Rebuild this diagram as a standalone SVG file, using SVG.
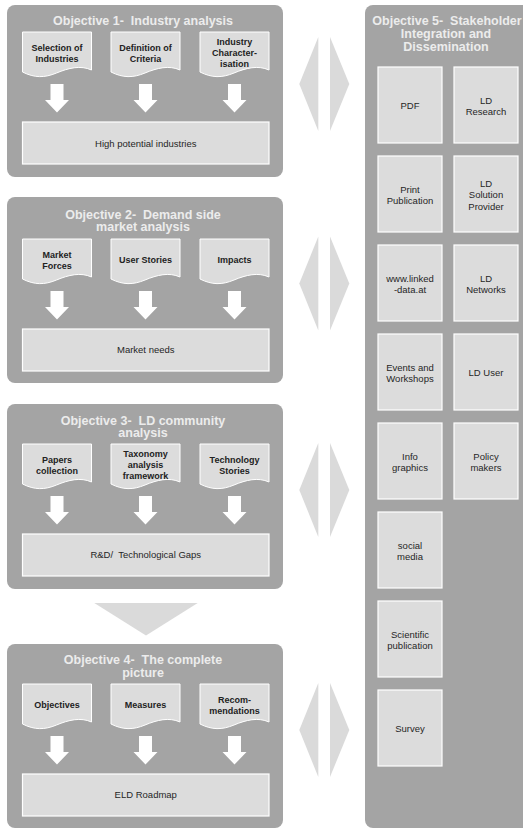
<svg xmlns="http://www.w3.org/2000/svg" xmlns:xlink="http://www.w3.org/1999/xlink" width="523" height="829" viewBox="0 0 523 829">
<style>
.panel{fill:#a4a4a4}
.box{fill:#dcdcdc;stroke:#ffffff;stroke-width:1.2}
.doc{fill:#dcdcdc;stroke:#ffffff;stroke-width:1}
.warr{fill:#ffffff}
.gshape{fill:#dadada}
text{white-space:pre}
.title{font-family:"Liberation Sans",Arial,sans-serif;font-weight:bold;font-size:12.5px;fill:#ececec;text-anchor:middle}
.dt{font-family:"Liberation Sans",Arial,sans-serif;font-weight:bold;font-size:9px;fill:#222222;text-anchor:middle}
.bt{font-family:"Liberation Sans",Arial,sans-serif;font-size:9.5px;fill:#262626;text-anchor:middle}
</style>
<defs>
<path id="docshape" d="M0,0 H69 V38 C58,33 46,36 34,41 C22,46 12,46 0,40 Z"/>
<polygon id="warrow" points="-6.5,0 6.5,0 6.5,16 12,16 0,28.5 -12,16 -6.5,16"/>
<g id="dbl">
<polygon points="318.3,-47 299.3,0 318.3,47"/>
<polygon points="330,-47 349.3,0 330,47"/>
</g>
</defs>

<!-- Panels -->
<g id="obj1">
<rect class="panel" x="7" y="5" width="276" height="172" rx="8"/>
<text class="title" x="143" y="24.5" xml:space="preserve">Objective 1-  Industry analysis</text>
</g>
<g id="obj2">
<rect class="panel" x="7" y="197" width="276" height="186" rx="8"/>
<text class="title" x="143" y="218.5" xml:space="preserve">Objective 2-  Demand side</text>
<text class="title" x="143" y="231">market analysis</text>
</g>
<g id="obj3">
<rect class="panel" x="7" y="404" width="276" height="185" rx="8"/>
<text class="title" x="143" y="424.5" xml:space="preserve">Objective 3-  LD community</text>
<text class="title" x="143" y="437">analysis</text>
</g>
<g id="obj4">
<rect class="panel" x="7" y="644" width="276" height="184" rx="8"/>
<text class="title" x="143" y="664" xml:space="preserve">Objective 4-  The complete</text>
<text class="title" x="143" y="676.5">picture</text>
</g>
<g id="obj5">
<rect class="panel" x="365" y="5" width="175" height="823" rx="8"/>
<text class="title" x="447" y="25" xml:space="preserve">Objective 5-  Stakeholder</text>
<text class="title" x="446" y="38">Integration and</text>
<text class="title" x="446" y="51">Dissemination</text>
</g>

<!-- Objective 1 nodes -->
<g id="sel-ind"><use href="#docshape" class="doc" x="22.5" y="32"/><text class="dt" x="57" y="50.8">Selection of</text><text class="dt" x="57" y="61.8">Industries</text></g>
<g id="def-crit"><use href="#docshape" class="doc" x="111" y="32"/><text class="dt" x="145.5" y="50.8">Definition of</text><text class="dt" x="145.5" y="61.8">Criteria</text></g>
<g id="ind-char"><use href="#docshape" class="doc" x="200" y="32"/><text class="dt" x="234.5" y="45.3">Industry</text><text class="dt" x="234.5" y="56.3">Character-</text><text class="dt" x="234.5" y="67.3">isation</text></g>
<g id="high-pot"><rect class="box" x="22.5" y="122" width="246.5" height="42"/><text class="bt" x="145.75" y="146.5">High potential industries</text></g>

<!-- Objective 2 nodes -->
<g id="mkt-forces"><use href="#docshape" class="doc" x="22.5" y="239"/><text class="dt" x="57" y="257.8">Market</text><text class="dt" x="57" y="268.8">Forces</text></g>
<g id="user-stories"><use href="#docshape" class="doc" x="111" y="239"/><text class="dt" x="145.5" y="263.3">User Stories</text></g>
<g id="impacts"><use href="#docshape" class="doc" x="200" y="239"/><text class="dt" x="234.5" y="263.3">Impacts</text></g>
<g id="mkt-needs"><rect class="box" x="22.5" y="329" width="246.5" height="42"/><text class="bt" x="145.75" y="353.4">Market needs</text></g>

<!-- Objective 3 nodes -->
<g id="papers"><use href="#docshape" class="doc" x="22.5" y="444"/><text class="dt" x="57" y="462.8">Papers</text><text class="dt" x="57" y="473.8">collection</text></g>
<g id="taxonomy"><use href="#docshape" class="doc" x="111" y="444"/><text class="dt" x="145.5" y="457.3">Taxonomy</text><text class="dt" x="145.5" y="468.3">analysis</text><text class="dt" x="145.5" y="479.3">framework</text></g>
<g id="tech-stories"><use href="#docshape" class="doc" x="200" y="444"/><text class="dt" x="234.5" y="462.8">Technology</text><text class="dt" x="234.5" y="473.8">Stories</text></g>
<g id="rd-gaps"><rect class="box" x="22.5" y="534" width="246.5" height="42"/><text class="bt" x="145.75" y="558.4" xml:space="preserve">R&amp;D/  Technological Gaps</text></g>

<!-- Objective 4 nodes -->
<g id="objectives"><use href="#docshape" class="doc" x="22.5" y="684"/><text class="dt" x="57" y="708.3">Objectives</text></g>
<g id="measures"><use href="#docshape" class="doc" x="111" y="684"/><text class="dt" x="145.5" y="708.3">Measures</text></g>
<g id="recom"><use href="#docshape" class="doc" x="200" y="684"/><text class="dt" x="234.5" y="702.8">Recom-</text><text class="dt" x="234.5" y="713.8">mendations</text></g>
<g id="eld-roadmap"><rect class="box" x="22.5" y="774" width="246.5" height="42"/><text class="bt" x="145.75" y="798.4">ELD Roadmap</text></g>

<!-- Objective 5 nodes -->
<g id="pdf"><rect class="box" x="378" y="67" width="64" height="76"/><text class="bt" x="410" y="109.4">PDF</text></g>
<g id="ld-research"><rect class="box" x="454" y="67" width="64" height="76"/><text class="bt" x="486" y="103.6">LD</text><text class="bt" x="486" y="115.1">Research</text></g>
<g id="print-pub"><rect class="box" x="378" y="156" width="64" height="76"/><text class="bt" x="410" y="192.6">Print</text><text class="bt" x="410" y="204.1">Publication</text></g>
<g id="ld-solution"><rect class="box" x="454" y="156" width="64" height="76"/><text class="bt" x="486" y="186.9">LD</text><text class="bt" x="486" y="198.4">Solution</text><text class="bt" x="486" y="209.9">Provider</text></g>
<g id="website"><rect class="box" x="378" y="245" width="64" height="76"/><text class="bt" x="410" y="281.6">www.linked</text><text class="bt" x="410" y="293.1">-data.at</text></g>
<g id="ld-networks"><rect class="box" x="454" y="245" width="64" height="76"/><text class="bt" x="486" y="281.6">LD</text><text class="bt" x="486" y="293.1">Networks</text></g>
<g id="events"><rect class="box" x="378" y="334" width="64" height="76"/><text class="bt" x="410" y="370.6">Events and</text><text class="bt" x="410" y="382.1">Workshops</text></g>
<g id="ld-user"><rect class="box" x="454" y="334" width="64" height="76"/><text class="bt" x="486" y="376.4">LD User</text></g>
<g id="infographics"><rect class="box" x="378" y="423" width="64" height="76"/><text class="bt" x="410" y="459.6">Info</text><text class="bt" x="410" y="471.1">graphics</text></g>
<g id="policy"><rect class="box" x="454" y="423" width="64" height="76"/><text class="bt" x="486" y="459.6">Policy</text><text class="bt" x="486" y="471.1">makers</text></g>
<g id="social"><rect class="box" x="378" y="512" width="64" height="76"/><text class="bt" x="410" y="548.6">social</text><text class="bt" x="410" y="560.1">media</text></g>
<g id="sci-pub"><rect class="box" x="378" y="601" width="64" height="76"/><text class="bt" x="410" y="637.6">Scientific</text><text class="bt" x="410" y="649.1">publication</text></g>
<g id="survey"><rect class="box" x="378" y="690" width="64" height="76"/><text class="bt" x="410" y="732.4">Survey</text></g>

<!-- Connectors -->
<g id="connectors">
<use href="#warrow" class="warr" x="57" y="84"/>
<use href="#warrow" class="warr" x="145.5" y="84"/>
<use href="#warrow" class="warr" x="234.5" y="84"/>
<use href="#warrow" class="warr" x="57" y="291"/>
<use href="#warrow" class="warr" x="145.5" y="291"/>
<use href="#warrow" class="warr" x="234.5" y="291"/>
<use href="#warrow" class="warr" x="57" y="496"/>
<use href="#warrow" class="warr" x="145.5" y="496"/>
<use href="#warrow" class="warr" x="234.5" y="496"/>
<use href="#warrow" class="warr" x="57" y="736"/>
<use href="#warrow" class="warr" x="145.5" y="736"/>
<use href="#warrow" class="warr" x="234.5" y="736"/>
<use href="#dbl" class="gshape" y="84"/>
<use href="#dbl" class="gshape" y="283.5"/>
<use href="#dbl" class="gshape" y="490"/>
<use href="#dbl" class="gshape" y="730"/>
<polygon class="gshape" points="94.3,603 197.7,603 146,635.5"/>
</g>
</svg>
